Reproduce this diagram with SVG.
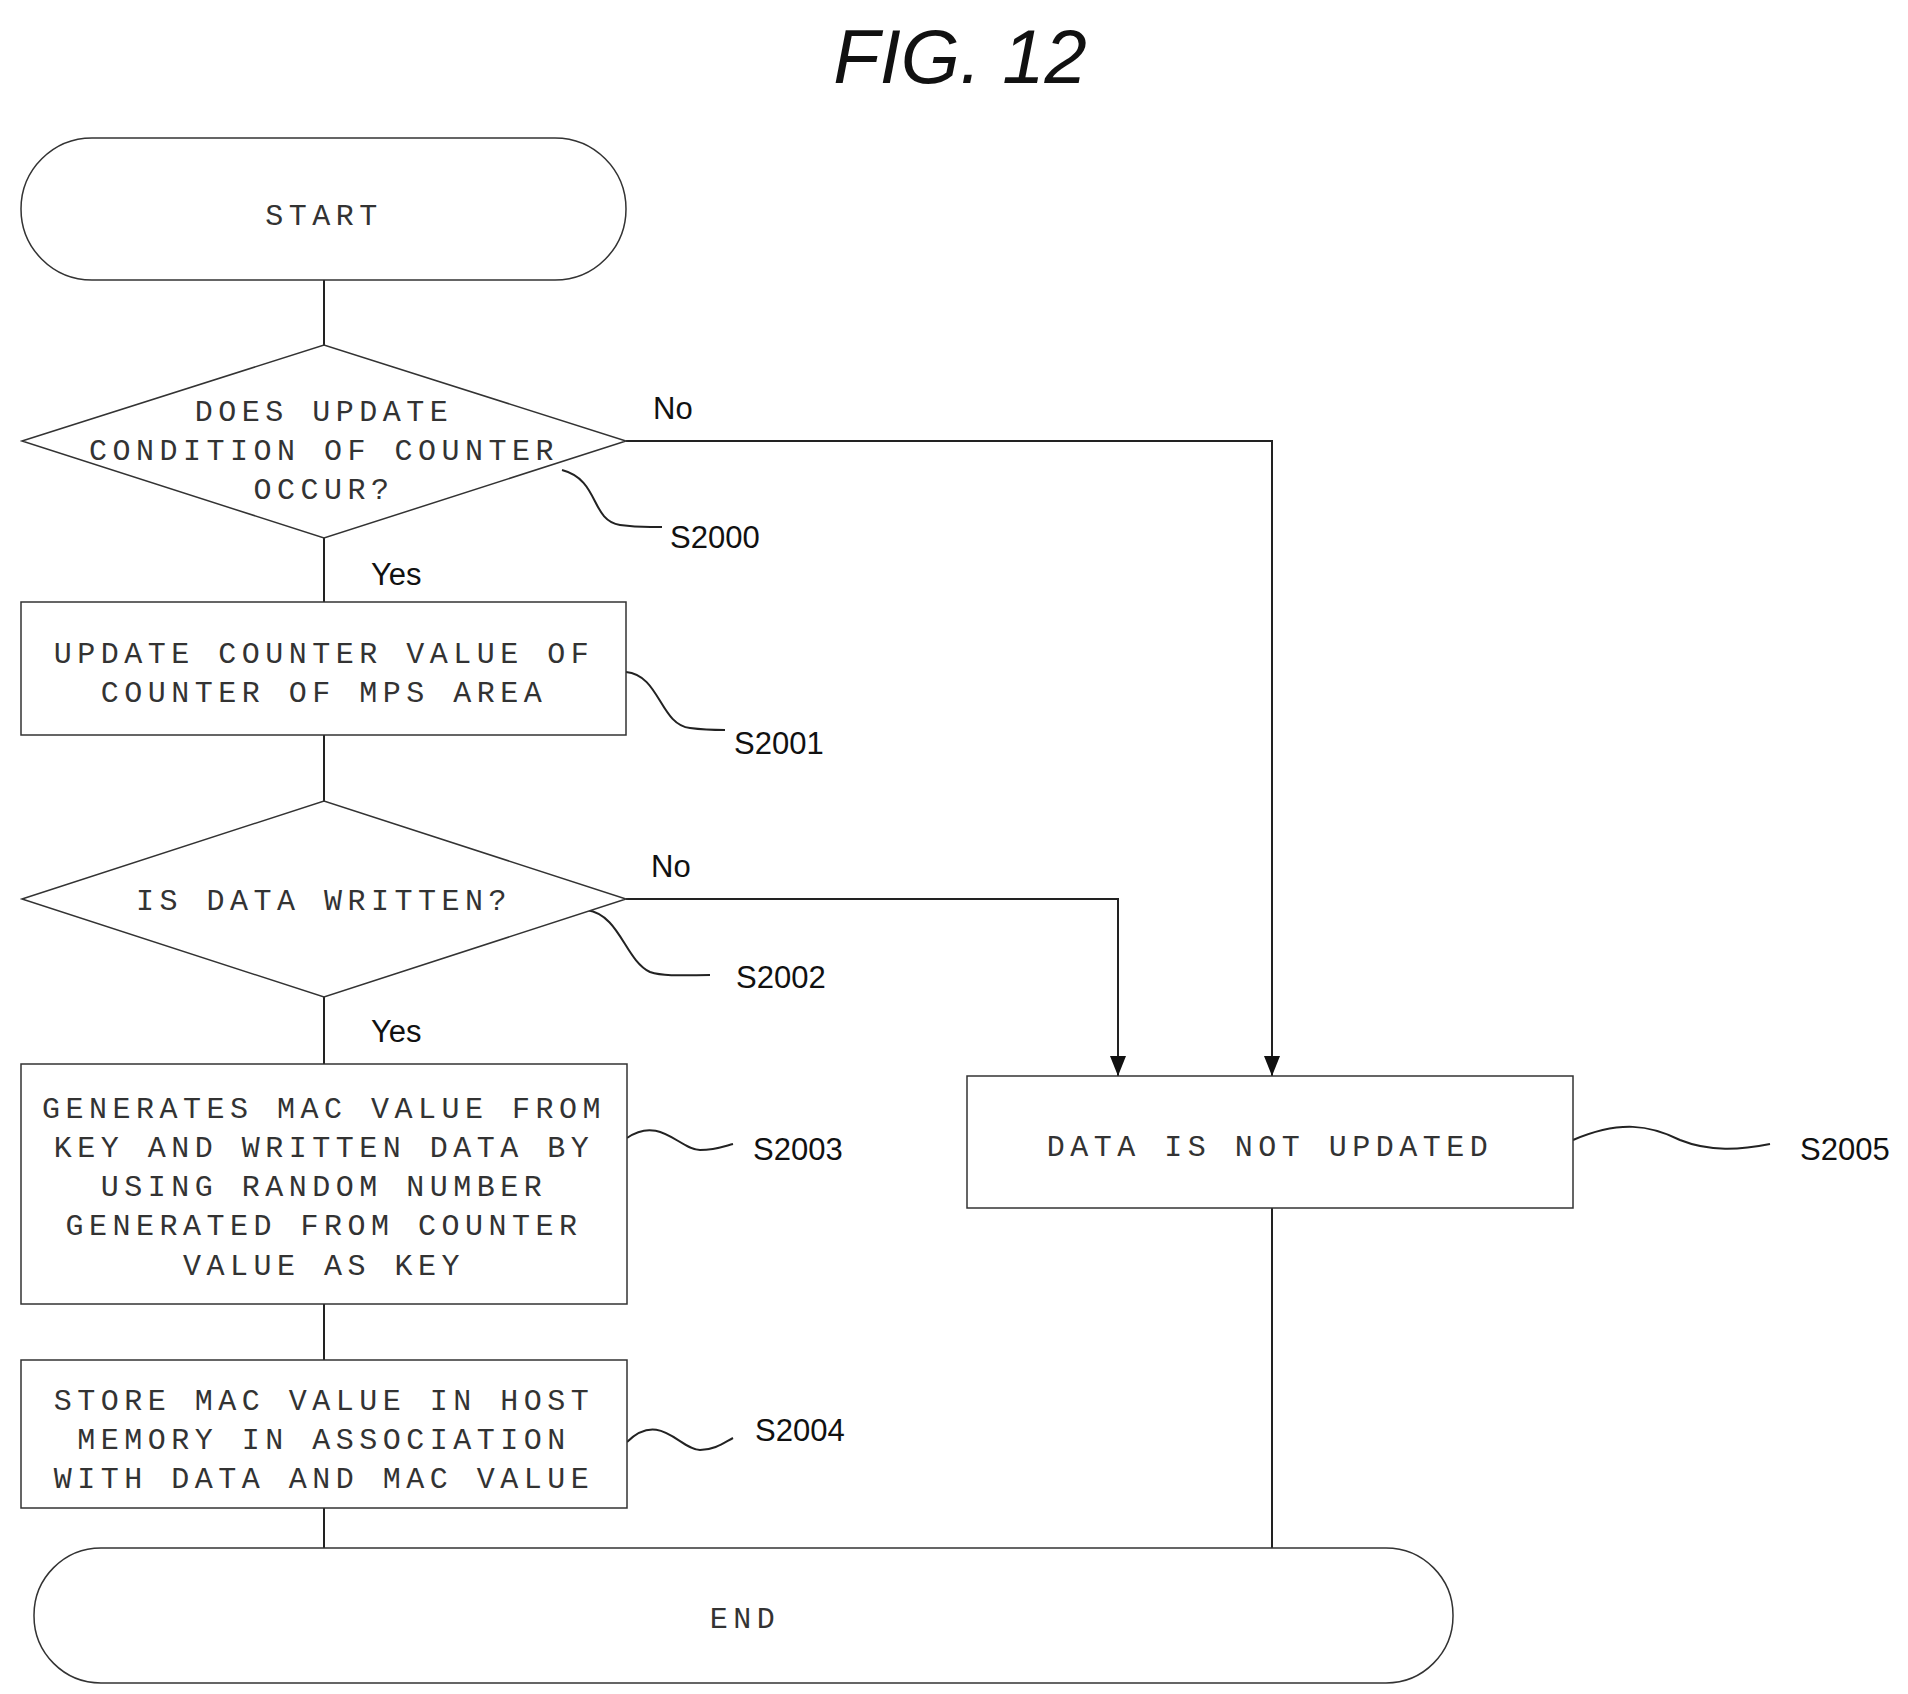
<svg xmlns="http://www.w3.org/2000/svg" width="1908" height="1694" viewBox="0 0 1908 1694">
<defs>
<style>
.s{fill:#fff;stroke:#333;stroke-width:1.5}
.c{fill:none;stroke:#222;stroke-width:2}
.t{font-family:"Liberation Mono",monospace;font-size:30px;letter-spacing:5.5px;fill:#333;text-anchor:middle}
.l{font-family:"Liberation Sans",Arial,sans-serif;font-size:31px;fill:#111}
</style>
<marker id="a" viewBox="0 0 10 10" refX="10" refY="5" markerWidth="9" markerHeight="9" orient="auto" markerUnits="userSpaceOnUse"><path d="M0,0L10,5L0,10z" fill="#111"/></marker>
<marker id="b" viewBox="0 0 10 10" refX="10" refY="5" markerWidth="20" markerHeight="20" orient="auto" markerUnits="userSpaceOnUse"><path d="M0,1L10,5L0,9z" fill="#111"/></marker>
</defs>
<text x="960" y="83" font-family="Liberation Sans,Arial,sans-serif" font-style="italic" font-size="76" text-anchor="middle" fill="#111">FIG. 12</text>
<g id="connectors">
<path class="c" d="M324,280V345M324,538V602M324,735V801M324,997V1064M324,1304V1360M324,1508V1548M1272,1208V1548"/>
<path class="c" d="M626,441H1272V1076" marker-end="url(#b)"/>
<path class="c" d="M626,899H1118V1076" marker-end="url(#b)"/>
<path class="c" d="M562,470C600,480 590,520 620,525C640,528 650,527 662,527"/>
<path class="c" d="M626,672C660,675 660,725 690,728C705,730 715,730 725,730"/>
<path class="c" d="M587,910C620,915 625,960 650,972C665,977 690,975 710,975"/>
<path class="c" d="M627,1138C660,1115 680,1150 700,1150C715,1150 725,1146 733,1144"/>
<path class="c" d="M627,1442C660,1410 680,1450 700,1450C715,1450 725,1442 733,1438"/>
<path class="c" d="M1573,1140C1620,1120 1650,1125 1680,1140C1710,1152 1740,1150 1770,1144"/>
<text class="l" x="653" y="419">No</text>
<text class="l" x="371" y="585">Yes</text>
<text class="l" x="651" y="877">No</text>
<text class="l" x="371" y="1042">Yes</text>
<text class="l" x="670" y="548">S2000</text>
<text class="l" x="734" y="754">S2001</text>
<text class="l" x="736" y="988">S2002</text>
<text class="l" x="753" y="1160">S2003</text>
<text class="l" x="755" y="1441">S2004</text>
<text class="l" x="1800" y="1160">S2005</text>
</g>
<g id="start"><rect class="s" x="21" y="138" width="605" height="142" rx="71"/><text class="t" x="324" y="225">START</text></g>
<g id="s2000"><path class="s" d="M22,441L324,345L626,441L324,538Z"/><text class="t" x="324" y="421">DOES UPDATE</text><text class="t" x="324" y="460">CONDITION OF COUNTER</text><text class="t" x="324" y="499">OCCUR?</text></g>
<g id="s2001"><rect class="s" x="21" y="602" width="605" height="133"/><text class="t" x="324" y="663">UPDATE COUNTER VALUE OF</text><text class="t" x="324" y="702">COUNTER OF MPS AREA</text></g>
<g id="s2002"><path class="s" d="M22,899L324,801L626,899L324,997Z"/><text class="t" x="324" y="910">IS DATA WRITTEN?</text></g>
<g id="s2003"><rect class="s" x="21" y="1064" width="606" height="240"/><text class="t" x="324" y="1118">GENERATES MAC VALUE FROM</text><text class="t" x="324" y="1157">KEY AND WRITTEN DATA BY</text><text class="t" x="324" y="1196">USING RANDOM NUMBER</text><text class="t" x="324" y="1235">GENERATED FROM COUNTER</text><text class="t" x="324" y="1275">VALUE AS KEY</text></g>
<g id="s2004"><rect class="s" x="21" y="1360" width="606" height="148"/><text class="t" x="324" y="1410">STORE MAC VALUE IN HOST</text><text class="t" x="324" y="1449">MEMORY IN ASSOCIATION</text><text class="t" x="324" y="1488">WITH DATA AND MAC VALUE</text></g>
<g id="s2005"><rect class="s" x="967" y="1076" width="606" height="132"/><text class="t" x="1270" y="1156">DATA IS NOT UPDATED</text></g>
<g id="end"><rect class="s" x="34" y="1548" width="1419" height="135" rx="67"/><text class="t" x="745" y="1628">END</text></g>
</svg>
